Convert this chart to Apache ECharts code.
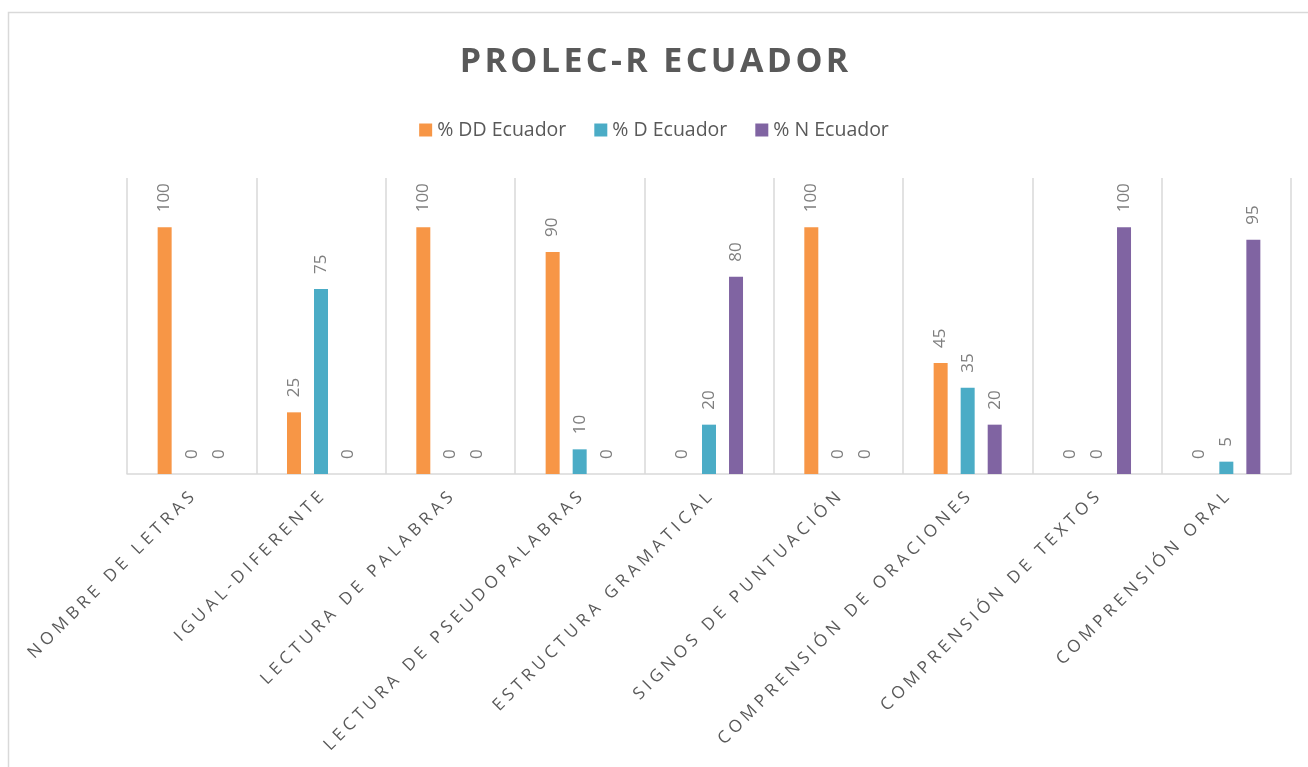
<!DOCTYPE html>
<html lang="es">
<head>
    <meta charset="UTF-8">
    <title>PROLEC-R Ecuador</title>
    <script src="https://cdn.jsdelivr.net/npm/echarts/dist/echarts.min.js"></script>
    <style>
        html, body { margin: 0; padding: 0; background: #fff; }
        #main { width: 1308px; height: 767px; }
    </style>
</head>
<body>
    <div id="main"></div>
    <script>
        var categories = ['NOMBRE DE LETRAS', 'IGUAL-DIFERENTE', 'LECTURA DE PALABRAS', 'LECTURA DE PSEUDOPALABRAS',
            'ESTRUCTURA GRAMATICAL', 'SIGNOS DE PUNTUACIÓN', 'COMPRENSIÓN DE ORACIONES', 'COMPRENSIÓN DE TEXTOS', 'COMPRENSIÓN ORAL'];
        var seriesNames = ['% DD Ecuador', '% D Ecuador', '% N Ecuador'];
        var ddValues = [100, 25, 100, 90, 0, 100, 45, 0, 0];
        var dValues = [0, 75, 0, 10, 20, 0, 35, 0, 5];
        var nValues = [0, 0, 0, 0, 80, 0, 20, 100, 95];
        var colors = ['#F79646', '#4BACC6', '#8064A2'];

        // spread letters out, echarts has no letter-spacing
        function spaced(s, sep) {
            return s.split('').join(sep);
        }

        var chart = echarts.init(document.getElementById('main'));

        var barLabel = {
            show: true,
            position: 'top',
            rotate: 90,
            align: 'left',
            verticalAlign: 'middle',
            distance: 15,
            fontSize: 17,
            fontFamily: 'Open Sans',
            color: '#7f7f7f'
        };

        function makeSeries(name, data, i) {
            return {
                name: name,
                type: 'bar',
                data: data,
                barWidth: 14,
                barGap: '93%',
                itemStyle: { color: colors[i] },
                label: barLabel
            };
        }

        var option = {
            animation: false,
            title: {
                text: spaced('PROLEC-R ECUADOR', '\u200A'),
                left: 'center',
                top: 40,
                textStyle: {
                    fontFamily: 'Open Sans',
                    fontSize: 34,
                    fontWeight: 'bold',
                    color: '#595959'
                }
            },
            legend: {
                top: 115,
                left: 'center',
                icon: 'rect',
                itemWidth: 13,
                itemHeight: 13,
                itemGap: 28,
                selectedMode: false,
                textStyle: {
                    fontFamily: 'Open Sans',
                    fontSize: 19.5,
                    color: '#595959'
                },
                data: seriesNames
            },
            grid: {
                left: 127,
                right: 17,
                top: 178,
                bottom: 293
            },
            xAxis: {
                type: 'category',
                data: categories,
                axisTick: { show: false },
                axisLine: { lineStyle: { color: '#d9d9d9', width: 1.5 } },
                splitLine: { show: true, interval: 0, lineStyle: { color: '#d9d9d9', width: 1.5 } },
                axisLabel: {
                    interval: 0,
                    rotate: 45,
                    margin: 21,
                    fontFamily: 'Open Sans',
                    fontSize: 17,
                    color: '#595959',
                    formatter: function (v) { return spaced(v, ' '); }
                }
            },
            yAxis: {
                type: 'value',
                min: 0,
                max: 120,
                show: false
            },
            graphic: [{
                type: 'rect',
                shape: { x: 8.5, y: 12.5, width: 1400, height: 900 },
                style: { fill: 'none', stroke: '#d9d9d9', lineWidth: 1.5 },
                silent: true
            }],
            series: [
                makeSeries(seriesNames[0], ddValues, 0),
                makeSeries(seriesNames[1], dValues, 1),
                makeSeries(seriesNames[2], nValues, 2)
            ]
        };

        chart.setOption(option);

        window.addEventListener('resize', function () {
            chart.resize();
        });
    </script>
</body>
</html>
